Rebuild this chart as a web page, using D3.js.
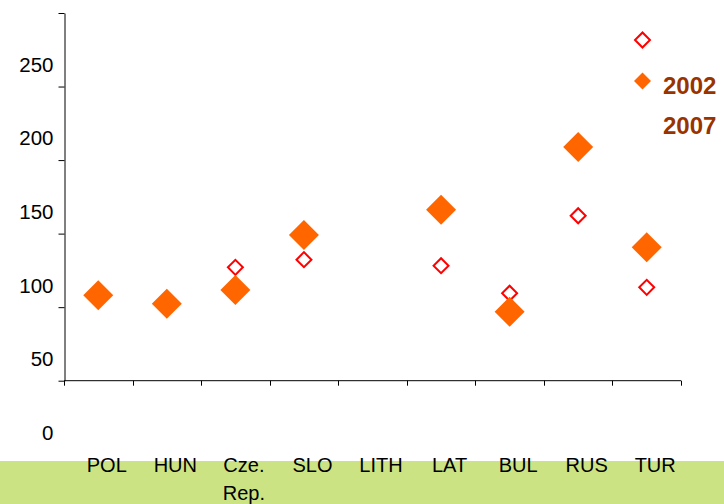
<!DOCTYPE html>
<html>
<head>
<meta charset="utf-8">
<script src="https://cdn.jsdelivr.net/npm/d3@7"></script>
<style>
  html, body { margin: 0; padding: 0; background: #ffffff; }
  svg { display: block; font-family: "Liberation Sans", Arial, sans-serif; }
</style>
</head>
<body>
<svg id="chart" width="724" height="504"></svg>
<script>
// ---- data ----
const categories = ["POL", "HUN", "Cze. Rep.", "SLO", "LITH", "LAT", "BUL", "RUS", "TUR"];
const values2002 = [null, null, 112.4, 117.6, null, 113.5, 94.8, 147.4, 98.8];
const values2007 = [93.4, 87.7, 97.0, 134.3, null, 151.5, 82.3, 194.0, 126.0];
const seriesNames = ["2002", "2007"];
const yTickValues = [0, 50, 100, 150, 200, 250];

// ---- layout ----
const W = 724, H = 504;
const svg = d3.select("#chart");

// green band at bottom
svg.append("rect").attr("x", 0).attr("y", 461).attr("width", W).attr("height", H - 461)
  .attr("fill", "#cce383");

const x = d3.scaleBand().domain(categories).range([64, 681]).paddingInner(0).paddingOuter(0);
// scale for axis line / tick marks
const yAxisScale = d3.scaleLinear().domain([0, 250]).range([380.7, 13]);
// scale for tick labels and marks (labels are drawn lower than the tick marks)
const y = d3.scaleLinear().domain([0, 250]).range([433, 64.5]);

// y axis line + ticks
const gy = svg.append("g").attr("transform", "translate(64.5,0)")
  .call(d3.axisLeft(yAxisScale).tickValues(yTickValues).tickSize(6).tickSizeOuter(0).tickFormat(""));
gy.selectAll("path,line").attr("stroke", "#000").attr("stroke-width", 1);

// y labels
const gyl = svg.append("g").attr("transform", "translate(53.5,0)")
  .call(d3.axisLeft(y).tickValues(yTickValues).tickSize(0).tickPadding(0));
gyl.select(".domain").remove();
gyl.selectAll("text").attr("font-size", "20.5px").attr("fill", "#000")
  .attr("font-family", "Liberation Sans, Arial, sans-serif");

// x axis line with ticks at category boundaries
const xEdges = categories.map(c => x(c)).concat([x.range()[1]]);
const gx = svg.append("g").attr("transform", `translate(0,${yAxisScale(0)})`);
gx.append("line").attr("x1", x.range()[0]).attr("x2", x.range()[1]).attr("y1", 0).attr("y2", 0)
  .attr("stroke", "#000").attr("stroke-width", 1);
gx.selectAll("line.tick").data(xEdges).join("line").attr("class", "tick")
  .attr("x1", d => Math.round(d) + 0.5).attr("x2", d => Math.round(d) + 0.5)
  .attr("y1", 0).attr("y2", 5).attr("stroke", "#000").attr("stroke-width", 1);

// x labels
const xl = svg.append("g");
categories.forEach(c => {
  const parts = c.split(" ");
  const t = xl.append("text").attr("x", x(c) + x.bandwidth() / 2 + 8.5).attr("y", 471.5)
    .attr("text-anchor", "middle").attr("font-size", "20px").attr("fill", "#000");
  parts.forEach((p, i) => {
    t.append("tspan").attr("x", x(c) + x.bandwidth() / 2 + 8.5).attr("dy", i === 0 ? 0 : 28.5).text(p);
  });
});

// markers
const sqFilled = d3.symbol().type(d3.symbolSquare).size(450);
const sqHollow = d3.symbol().type(d3.symbolSquare).size(112);

const pts2002 = categories.map((c, i) => ({ c, v: values2002[i] })).filter(d => d.v != null);
const pts2007 = categories.map((c, i) => ({ c, v: values2007[i] })).filter(d => d.v != null);

svg.append("g").selectAll("path").data(pts2002).join("path")
  .attr("d", sqHollow)
  .attr("transform", d => `translate(${x(d.c) + x.bandwidth() / 2},${y(d.v)}) rotate(45)`)
  .attr("fill", "#fff").attr("stroke", "#ff0000").attr("stroke-width", 2);

svg.append("g").selectAll("path").data(pts2007).join("path")
  .attr("d", sqFilled)
  .attr("transform", d => `translate(${x(d.c) + x.bandwidth() / 2},${y(d.v)}) rotate(45)`)
  .attr("fill", "#ff6600");

// legend (markers drawn above their labels, as in the reference)
const lg = svg.append("g");
lg.append("path").attr("d", sqHollow).attr("transform", "translate(642.5,40) rotate(45)")
  .attr("fill", "#fff").attr("stroke", "#ff0000").attr("stroke-width", 2);
lg.append("path").attr("d", d3.symbol().type(d3.symbolSquare).size(144))
  .attr("transform", "translate(642.5,81) rotate(45)").attr("fill", "#ff6600");
seriesNames.forEach((s, i) => {
  lg.append("text").attr("x", 663).attr("y", 93.5 + i * 40).attr("font-size", "24px")
    .attr("font-weight", "bold").attr("fill", "#993300").text(s);
});
</script>
</body>
</html>
